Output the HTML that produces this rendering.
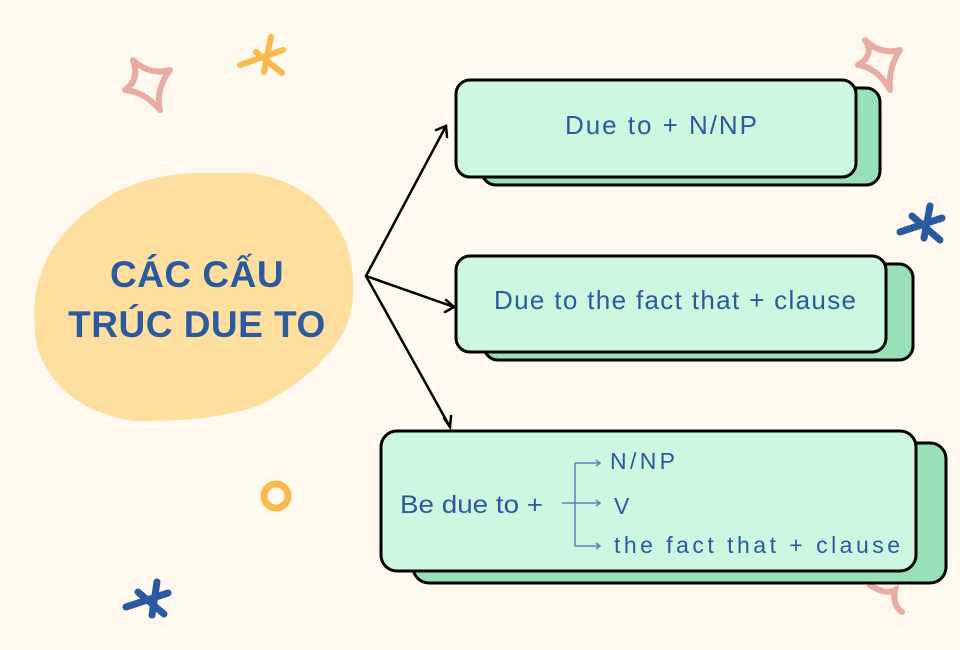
<!DOCTYPE html>
<html><head><meta charset="utf-8"><style>
html,body{margin:0;padding:0;background:#fff9ef;}
svg{display:block}
text{font-family:"Liberation Sans","DejaVu Sans",sans-serif;fill:#2b5a9e}
</style></head><body>
<svg width="960" height="650" viewBox="0 0 960 650" xmlns="http://www.w3.org/2000/svg">
<rect width="960" height="650" fill="#fff9ef"/>
<path d="M133 60 Q140 80 125 90 Q145 92 160 110 Q155 90 170 70 Q150 76 133 60Z" fill="none" stroke="#e8aca2" stroke-width="6" stroke-linejoin="round"/>
<g stroke="#feb94d" stroke-width="6" stroke-linecap="round"><line x1="271" y1="37" x2="264" y2="72"/><line x1="240" y1="65" x2="283" y2="50"/><line x1="256" y1="52" x2="282" y2="73"/></g>
<path d="M865 40 Q875 55 858 65 Q878 68 890 90 Q888 68 900 50 Q880 55 865 40Z" fill="none" stroke="#e8aca2" stroke-width="6" stroke-linejoin="round"/>
<g stroke="#2b5a9e" stroke-width="7" stroke-linecap="round"><line x1="930" y1="206" x2="924" y2="238"/><line x1="900" y1="232" x2="942" y2="218"/><line x1="912" y1="216" x2="940" y2="240"/></g>
<g stroke="#2b5a9e" stroke-width="7" stroke-linecap="round"><line x1="157" y1="582" x2="152" y2="615"/><line x1="126" y1="607" x2="168" y2="593"/><line x1="138" y1="592" x2="164" y2="614"/></g>
<circle cx="276" cy="496" r="12" fill="none" stroke="#feb94d" stroke-width="7"/>
<path d="M870 585 Q885 595 895 590 Q892 605 902 612" fill="none" stroke="#e8aca2" stroke-width="6" stroke-linecap="round"/>
<path d="M85 213 Q130 175 195 173 L252 173 Q320 185 345 240 Q362 290 345 330 Q320 375 260 405 Q215 422 135 421 Q60 410 38 350 Q25 290 55 245 Q70 225 85 213Z" fill="#ffdf9f"/>
<text x="197" y="287" font-size="37" font-weight="bold" text-anchor="middle" letter-spacing="0.5">CÁC CẤU</text>
<text x="197" y="337" font-size="37" font-weight="bold" text-anchor="middle" letter-spacing="0.5">TRÚC DUE TO</text>
<g stroke="#000" stroke-width="2.5" fill="none" stroke-linecap="round">
<line x1="366" y1="276" x2="446" y2="126"/><polyline points="436,130 446,126 447,137"/>
<line x1="366" y1="276" x2="454" y2="307"/><polyline points="446,300 454,307 445,312"/>
<line x1="366" y1="276" x2="450" y2="427"/><polyline points="444,418 450,427 451,416"/>
</g>
<g stroke="#000" stroke-width="3">
<rect x="482" y="88" width="398" height="97" rx="14" fill="#98e0b5"/>
<rect x="456" y="80" width="400" height="97" rx="14" fill="#cdf7e0"/>
<rect x="484" y="264" width="429" height="96" rx="14" fill="#98e0b5"/>
<rect x="456" y="256" width="430" height="96" rx="14" fill="#cdf7e0"/>
<rect x="413" y="443" width="533" height="140" rx="16" fill="#98e0b5"/>
<rect x="381" y="431" width="535" height="140" rx="16" fill="#cdf7e0"/>
</g>
<text x="661" y="134" font-size="26" text-anchor="middle" textLength="192" lengthAdjust="spacing">Due to + N/NP</text>
<text x="675" y="309" font-size="26" text-anchor="middle" textLength="362" lengthAdjust="spacing">Due to the fact that + clause</text>
<text x="400" y="513" font-size="25" textLength="143" lengthAdjust="spacingAndGlyphs">Be due to +</text>
<g stroke="#5c83b8" stroke-width="1.5" fill="none">
<polyline points="575,463 575,546 600,546"/>
<line x1="575" y1="463" x2="600" y2="463"/>
<line x1="562" y1="503" x2="600" y2="503"/>
<polyline points="596,460 600,463 596,466"/>
<polyline points="596,500 600,503 596,506"/>
<polyline points="596,543 600,546 596,549"/>
</g>
<text x="610" y="469" font-size="23" textLength="65" lengthAdjust="spacing">N/NP</text>
<text x="614" y="514" font-size="23">V</text>
<text x="614" y="553" font-size="23" textLength="286" lengthAdjust="spacing">the fact that + clause</text>
</svg>
</body></html>
